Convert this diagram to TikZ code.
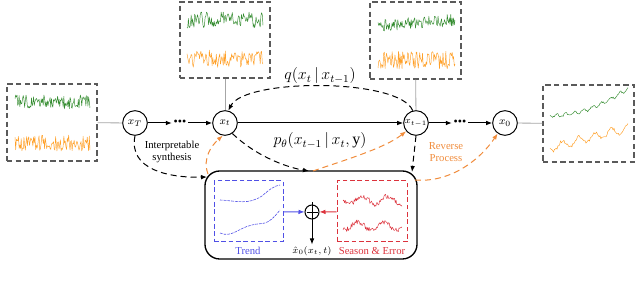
\documentclass[tikz,border=0pt]{standalone}
\usepackage{fontspec}
\setmainfont{Liberation Serif}
\usetikzlibrary{arrows.meta}

\definecolor{noisegreen}{RGB}{52,140,48}
\definecolor{noiseorange}{RGB}{255,160,40}
\definecolor{trendblue}{RGB}{80,80,230}
\definecolor{seasonred}{RGB}{220,50,60}
\definecolor{panelgray}{RGB}{90,90,90}
\definecolor{revorange}{RGB}{240,140,60}

\tikzset{every picture/.style={line width=0.75pt}}
\tikzset{
  state/.style={circle, draw, minimum size=18.5pt, inner sep=0pt, font=\footnotesize},
  panel/.style={draw=panelgray, line width=1pt, dash pattern={on 4pt off 2.5pt}, inner sep=0pt},
  link/.style={draw=gray!70, line width=0.6pt},
  flow/.style={-{Latex[length=4.5pt,width=3.5pt]}},
  fwd/.style={flow, dash pattern={on 4.5pt off 3pt}},
  rev/.style={flow, revorange, dash pattern={on 4.5pt off 3pt}},
  noise/.style={line width=0.35pt, line join=round},
  ellip/.style={inner sep=1pt, font=\small},
}

\begin{document}
\begin{tikzpicture}[x=0.75pt,y=0.75pt,yscale=-1,xscale=1]
\useasboundingbox (0,0) rectangle (640,281);
\pgfmathsetseed{1234}

%Shape: Circle (states)
\node[state] (xT) at (135,123) {$x_T$};
\node[state] (xt) at (225,123) {$x_t$};
\node[state, font=\scriptsize] (xtm) at (416,123) {$x_{t-1}$};
\node[state] (x0) at (505,123) {$x_0$};
% Text Node (dots)
\node[ellip] (d1) at (180,123) {\textbullet\textbullet\textbullet};
\node[ellip] (d2) at (460,123) {\textbullet\textbullet\textbullet};

%Shape: Rectangle (sample panels)
\node[panel, minimum width=67.5pt, minimum height=57.75pt] (pT) at (52,122.5) {};
\node[panel, minimum width=67.5pt, minimum height=57pt] (pt) at (225,40) {};
\node[panel, minimum width=68.25pt, minimum height=57.75pt] (ptm) at (415.5,40.5) {};
\node[panel, minimum width=68.25pt, minimum height=57.75pt] (p0) at (588.5,123.5) {};

%Shape: noisy series
\draw[noise, noisegreen] plot[domain=15:90, samples=110] (\x, {102+7*rand});
\draw[noise, noiseorange] plot[domain=15:90, samples=110] (\x, {143+8*rand});
\draw[noise, noisegreen] plot[domain=187:263, samples=110] (\x, {20+8*rand});
\draw[noise, noiseorange] plot[domain=187:263, samples=110] (\x, {59+9*rand});
\draw[noise, noisegreen] plot[domain=378:455, samples=110] (\x, {26-0.08*(\x-378)+6*rand});
\draw[noise, noiseorange] plot[domain=378:455, samples=110] (\x, {60+9*rand});
\draw[noise, noisegreen] plot[domain=550:628, samples=90] (\x, {116-28*((\x-550)/78)*((\x-550)/78)+1.5*sin(40*(\x-550))+1*rand});
\draw[noise, noiseorange] plot[domain=550:628, samples=90] (\x, {148-20*(\x-550)/78+4*sin(22*(\x-550))+1.5*rand});

%Straight Lines (panel links)
\draw[link] (pT) -- (xT);
\draw[link] (pt) -- (xt);
\draw[link] (ptm) -- (xtm);
\draw[link] (x0) -- (p0);

%Straight Lines (chain)
\draw[flow] (xT) -- (d1);
\draw[flow] (d1) -- (xt);
\draw[flow] (xt) -- (xtm);
\draw[flow] (xtm) -- (d2);
\draw[flow] (d2) -- (x0);

%Curve Lines (forward step)
\draw[fwd] (xtm.105) .. controls (400,78) and (245,78) .. (xt.75);
% Text Node
\node[font=\large] (qlab) at (320,76) {$q\big(x_t\,\big|\,x_{t-1}\big)$};
% Text Node
\node[font=\large] (plab) at (320,141) {$p_\theta\big(x_{t-1}\,\big|\,x_t,\mathrm{y}\big)$};

%Shape: Rounded Rect (denoiser)
\node[draw, line width=1pt, rounded corners=11pt, minimum width=159pt, minimum height=66pt] (net) at (311,215) {};
\node[draw=trendblue, dash pattern={on 3.5pt off 2pt}, minimum width=51.75pt, minimum height=45.75pt, inner sep=0pt] (trend) at (248.5,211.5) {};
\node[draw=seasonred, dash pattern={on 3.5pt off 2pt}, minimum width=52.5pt, minimum height=45.75pt, inner sep=0pt] (season) at (372,211.5) {};
\node[circle, draw, minimum size=10.5pt, inner sep=0pt] (plus) at (312,212) {};
\draw[line width=0.6pt] ([yshift=-1.5pt]plus.north) -- ([yshift=1.5pt]plus.south) ([xshift=1.5pt]plus.west) -- ([xshift=-1.5pt]plus.east);
\node[font=\scriptsize, inner sep=1pt] (xhat) at (312,251) {$\hat{x}_0(x_t,t)$};
\node[font=\footnotesize, text=trendblue] (trendlab) at (248,251) {Trend};
\node[font=\footnotesize, text=seasonred] (seasonlab) at (372,251) {Season \& Error};

%Shape: trend and season curves
\draw[trendblue, line width=0.45pt, dash pattern={on 2pt off 0.8pt}] (220,200) .. controls (238,201) and (248,205) .. (262,196) .. controls (270,189) and (274,186) .. (280,185);
\draw[trendblue, line width=0.45pt, dash pattern={on 2pt off 0.8pt}] (220,233) .. controls (232,238) and (238,228) .. (252,225) .. controls (262,222) and (266,228) .. (280,210);
\draw[noise, seasonred] plot[domain=343:402, samples=80] (\x, {200+4*sin(14*(\x-343))+2.5*rand});
\draw[noise, seasonred] plot[domain=343:402, samples=80] (\x, {226+4*sin(14*(\x-343)+60)+2.5*rand});

%Straight Lines (inside)
\draw[flow, trendblue] (trend) -- (plus);
\draw[flow, seasonred] (season) -- (plus);
\draw[flow] (plus) -- (xhat);

%Curve Lines (synthesis and reverse)
\coordinate (netL) at (207,177);
\coordinate (netT1) at (309,171);
\coordinate (netT2) at (313,171);
\coordinate (netR1) at (412,172);
\coordinate (netR2) at (415,180);
\draw[fwd] (xT.south) .. controls (128,170) and (170,178) .. (netL);
\draw[fwd] (xt.-55) .. controls (258,158) and (290,168) .. (netT1);
\draw[fwd] (xtm.south) -- (netR1);
\draw[rev] (208,174) .. controls (202,158) and (212,145) .. (xt.-100);
\draw[rev] (netT2) .. controls (345,160) and (385,148) .. (xtm.-140);
\draw[rev] (netR2) .. controls (450,183) and (480,160) .. (x0.-125);

% Text Node
\node[font=\footnotesize, align=center, inner sep=0pt] (synlab) at (172,152) {Interpretable\\synthesis};
% Text Node
\node[font=\footnotesize, align=center, inner sep=0pt, text=revorange] (revlab) at (446,152) {Reverse\\Process};

\end{tikzpicture}
\end{document}
